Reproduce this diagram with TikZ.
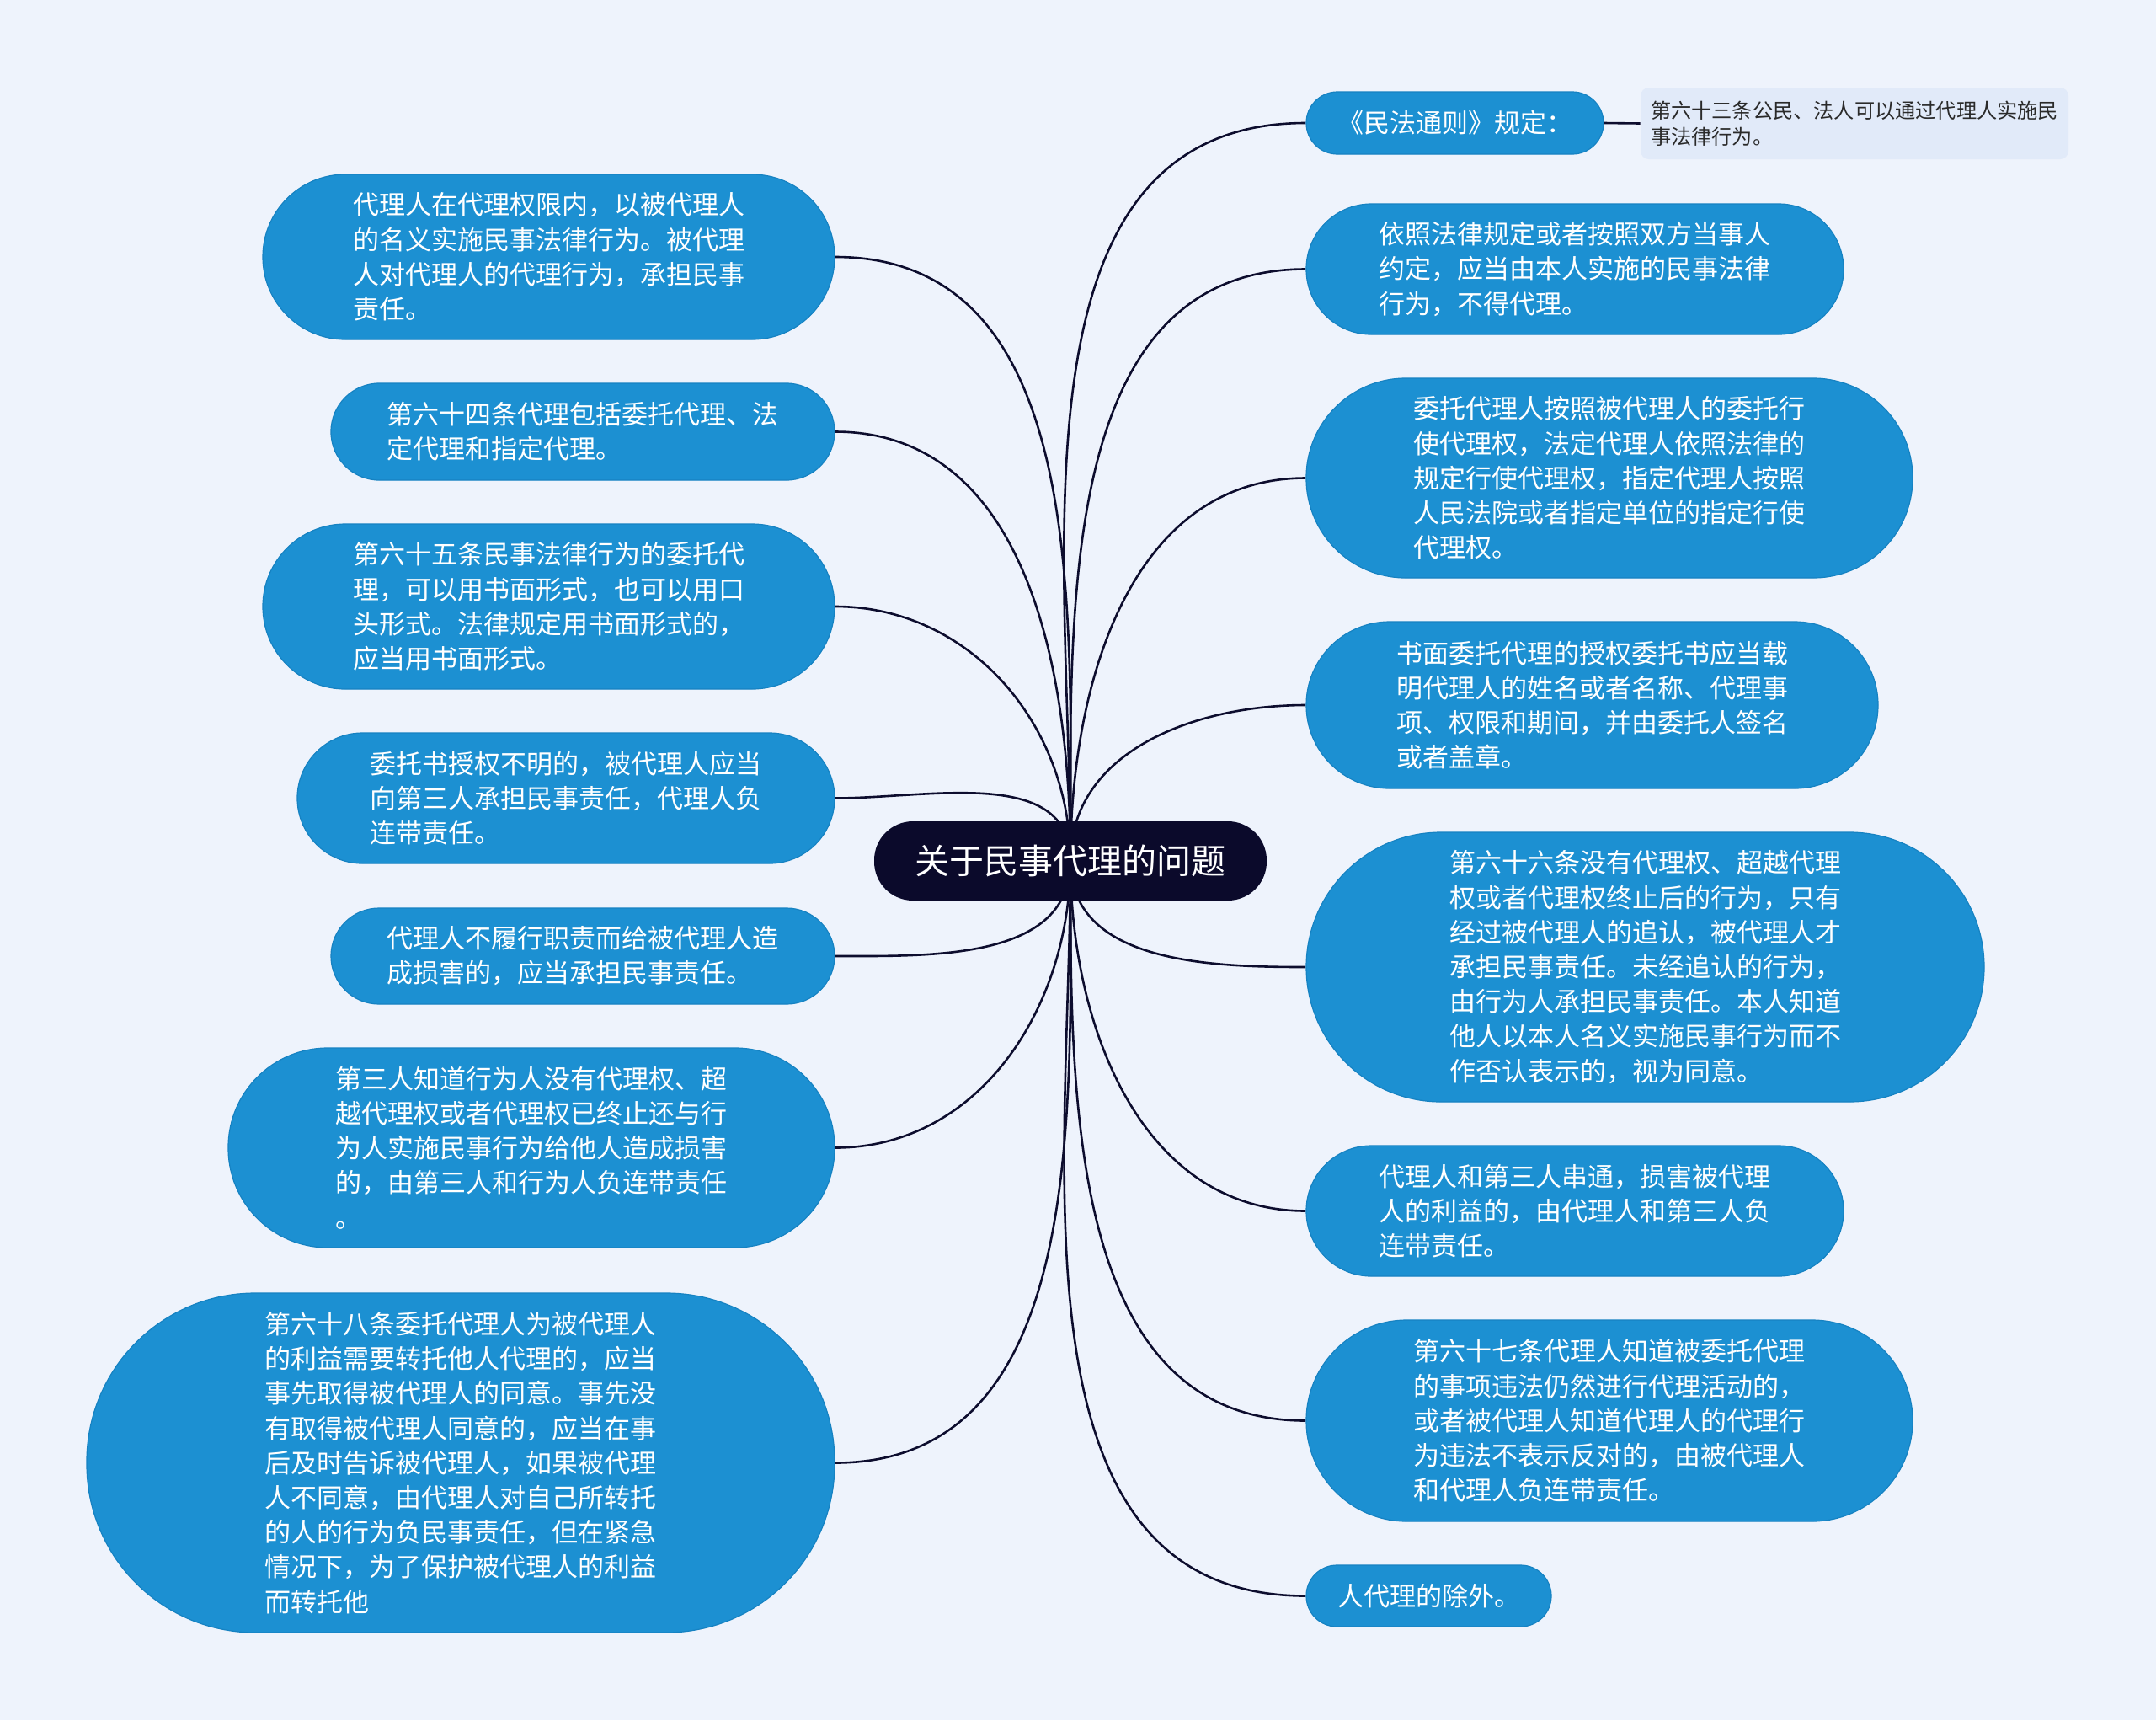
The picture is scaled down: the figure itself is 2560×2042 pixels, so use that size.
\documentclass[tikz,border=0pt]{standalone}
\usepackage{fontspec}
\newfontfamily\cjk{Noto Sans CJK SC}
\usetikzlibrary{positioning}
\definecolor{bgcol}{HTML}{EEF3FC}
\definecolor{rootcol}{HTML}{0B0A2B}
\definecolor{topiccol}{HTML}{1C90D2}
\definecolor{topicedge}{HTML}{1682C2}
\definecolor{notecol}{HTML}{E1EAF9}
\definecolor{notetext}{HTML}{2A2A2A}
\definecolor{linecol}{HTML}{0D0D2E}
\pgfdeclarelayer{bg}
\pgfsetlayers{bg,main}
\tikzstyle{root} = [rectangle, rounded corners=23pt, fill=rootcol, text=white, minimum width=233pt, minimum height=47pt, inner sep=0pt, font=\cjk\fontsize{20.5}{24}\selectfont]
\tikzstyle{topic} = [rectangle, fill=topiccol, draw=topicedge, line width=0.6pt, text=white, align=left, inner sep=0pt, font=\cjk\fontsize{15.5}{20.6}\selectfont]
\tikzstyle{note} = [rectangle, rounded corners=5pt, fill=notecol, text=notetext, align=left, inner sep=0pt, minimum width=254pt, minimum height=42.5pt, font=\cjk\fontsize{12.1}{15.5}\selectfont]
\tikzstyle{link} = [draw=linecol, line width=1.3pt]

\begin{document}
\begin{tikzpicture}[x=0.5pt, y=-0.5pt]

    \begin{pgfonlayer}{bg}
        \fill[bgcol] (0,0) rectangle (2560,2042);
    \end{pgfonlayer}
    \useasboundingbox (0,0) rectangle (2560,2042);

    \node (ROOT) [root] at (1271,1022) {关于民事代理的问题};

    % left side
    \node (DEF) [topic, minimum width=339.5pt, minimum height=98pt, rounded corners=49pt] at (651.5,305) {代理人在代理权限内，以被代理人\\的名义实施民事法律行为。被代理\\人对代理人的代理行为，承担民事\\责任。};
    \node (TYPES) [topic, minimum width=299pt, minimum height=57.5pt, rounded corners=28.7pt] at (692,512.5) {第六十四条代理包括委托代理、法\\定代理和指定代理。};
    \node (FORM) [topic, minimum width=339.5pt, minimum height=98pt, rounded corners=49pt] at (651.5,720) {第六十五条民事法律行为的委托代\\理，可以用书面形式，也可以用口\\头形式。法律规定用书面形式的，\\应当用书面形式。};
    \node (UNCLEAR) [topic, minimum width=319pt, minimum height=77.5pt, rounded corners=38.7pt] at (672,947.5) {委托书授权不明的，被代理人应当\\向第三人承担民事责任，代理人负\\连带责任。};
    \node (DUTY) [topic, minimum width=299pt, minimum height=57pt, rounded corners=28.5pt] at (692,1135) {代理人不履行职责而给被代理人造\\成损害的，应当承担民事责任。};
    \node (THIRD) [topic, minimum width=360pt, minimum height=118.5pt, rounded corners=59pt] at (631,1362.5) {第三人知道行为人没有代理权、超\\越代理权或者代理权已终止还与行\\为人实施民事行为给他人造成损害\\的，由第三人和行为人负连带责任\\。};
    \node (SUBAGENT) [topic, minimum width=444pt, minimum height=201.5pt, rounded corners=100pt] at (547,1736.5) {第六十八条委托代理人为被代理人\\的利益需要转托他人代理的，应当\\事先取得被代理人的同意。事先没\\有取得被代理人同意的，应当在事\\后及时告诉被代理人，如果被代理\\人不同意，由代理人对自己所转托\\的人的行为负民事责任，但在紧急\\情况下，为了保护被代理人的利益\\而转托他};

    % right side
    \node (GENERAL) [topic, minimum width=176.5pt, minimum height=37pt, rounded corners=18.5pt] at (1727.5,146) {《民法通则》规定：};
    \node (ART63) [note] at (2202,146.5) {第六十三条公民、法人可以通过代理人实施民\\事法律行为。};
    \node (PERSONAL) [topic, minimum width=319pt, minimum height=77.5pt, rounded corners=38.7pt] at (1870,319.5) {依照法律规定或者按照双方当事人\\约定，应当由本人实施的民事法律\\行为，不得代理。};
    \node (POWERS) [topic, minimum width=360pt, minimum height=118.5pt, rounded corners=59pt] at (1911,567.5) {委托代理人按照被代理人的委托行\\使代理权，法定代理人依照法律的\\规定行使代理权，指定代理人按照\\人民法院或者指定单位的指定行使\\代理权。};
    \node (WRITTEN) [topic, minimum width=339.5pt, minimum height=99pt, rounded corners=49.5pt] at (1890.5,837) {书面委托代理的授权委托书应当载\\明代理人的姓名或者名称、代理事\\项、权限和期间，并由委托人签名\\或者盖章。};
    \node (UNAUTH) [topic, minimum width=402.5pt, minimum height=160pt, rounded corners=80pt] at (1953.5,1148) {第六十六条没有代理权、超越代理\\权或者代理权终止后的行为，只有\\经过被代理人的追认，被代理人才\\承担民事责任。未经追认的行为，\\由行为人承担民事责任。本人知道\\他人以本人名义实施民事行为而不\\作否认表示的，视为同意。};
    \node (COLLUDE) [topic, minimum width=319pt, minimum height=77.5pt, rounded corners=38.7pt] at (1870,1437.5) {代理人和第三人串通，损害被代理\\人的利益的，由代理人和第三人负\\连带责任。};
    \node (ILLEGAL) [topic, minimum width=360pt, minimum height=119.5pt, rounded corners=59.7pt] at (1911,1686.5) {第六十七条代理人知道被委托代理\\的事项违法仍然进行代理活动的，\\或者被代理人知道代理人的代理行\\为违法不表示反对的，由被代理人\\和代理人负连带责任。};
    \node (EXCEPT) [topic, minimum width=145.5pt, minimum height=36.5pt, rounded corners=18.2pt] at (1696.5,1894.5) {人代理的除外。};

    \begin{pgfonlayer}{bg}
        \draw [link] (ROOT.center) to[out=90, in=0] (DEF.east);
        \draw [link] (ROOT.center) to[out=90, in=0] (TYPES.east);
        \draw [link] (ROOT.center) to[out=90, in=0] (FORM.east);
        \draw [link] (ROOT.center) to[out=90, in=0] (UNCLEAR.east);
        \draw [link] (ROOT.center) to[out=-90, in=0] (DUTY.east);
        \draw [link] (ROOT.center) to[out=-90, in=0] (THIRD.east);
        \draw [link] (ROOT.center) to[out=-90, in=0] (SUBAGENT.east);
        \draw [link] (ROOT.center) to[out=90, in=180] (GENERAL.west);
        \draw [link] (ROOT.center) to[out=90, in=180] (PERSONAL.west);
        \draw [link] (ROOT.center) to[out=90, in=180] (POWERS.west);
        \draw [link] (ROOT.center) to[out=90, in=180] (WRITTEN.west);
        \draw [link] (ROOT.center) to[out=-90, in=180] (UNAUTH.west);
        \draw [link] (ROOT.center) to[out=-90, in=180] (COLLUDE.west);
        \draw [link] (ROOT.center) to[out=-90, in=180] (ILLEGAL.west);
        \draw [link] (ROOT.center) to[out=-90, in=180] (EXCEPT.west);
        \draw [link] (GENERAL.east) -- (ART63.west);
    \end{pgfonlayer}

\end{tikzpicture}
\end{document}
